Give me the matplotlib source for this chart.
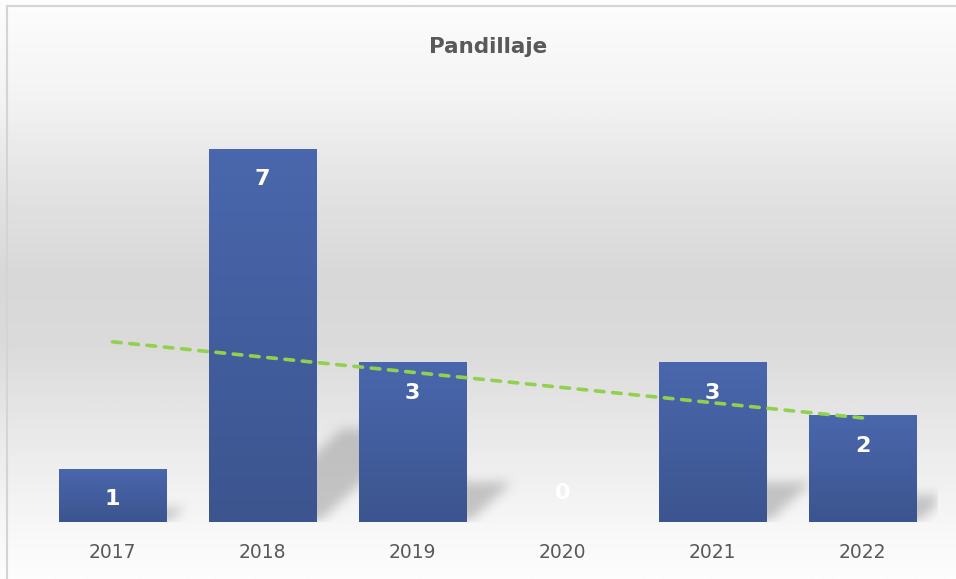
import numpy as np
import matplotlib
matplotlib.use("Agg")
import matplotlib.pyplot as plt
from matplotlib.path import Path
from matplotlib.colors import LinearSegmentedColormap

years = ["2017", "2018", "2019", "2020", "2021", "2022"]
valores = [1, 7, 3, 0, 3, 2]
titulo = "Pandillaje"

W, H = 956, 579
fig = plt.figure(figsize=(W / 100, H / 100), dpi=100)

# fondo con degradado (blanco - gris - blanco)
bg = fig.add_axes([0, 0, 1, 1], zorder=-10)
bg.set_axis_off()
stops = [(0.0, "#fdfdfd"), (0.16, "#f4f4f4"), (0.35, "#e1e1e1"), (0.48, "#d8d8d8"),
         (0.60, "#dbdbdb"), (0.78, "#ececec"), (0.92, "#f8f8f8"), (1.0, "#fdfdfd")]
cmap_bg = LinearSegmentedColormap.from_list("bg", stops)
grad = np.linspace(0, 1, 400).reshape(-1, 1)
bg.imshow(grad, aspect="auto", cmap=cmap_bg, extent=[0, 1, 0, 1], origin="upper")
bg.set_xlim(0, 1)
bg.set_ylim(0, 1)
# marco del grafico (solo se ven borde izquierdo y superior)
bg.plot([7 / W, 7 / W], [0, 1 - 6 / H], color="#d4d4d4", lw=1.5)
bg.plot([7 / W, 1], [1 - 6 / H, 1 - 6 / H], color="#d4d4d4", lw=1.5)

ax = fig.add_axes([37.5 / W, 57 / H, 900 / W, 426.4 / H])
ax.set_facecolor("none")
x = np.arange(len(valores))
ancho = 0.714
xmin, xmax, ymin, ymax = -0.5, len(valores) - 0.5, 0, 8

# sombras en perspectiva, rasterizadas y difuminadas
nx, ny = 900, 426
gx, gy = np.meshgrid(np.linspace(xmin, xmax, nx), np.linspace(ymin, ymax, ny))
pts_grid = np.column_stack([gx.ravel(), gy.ravel()])
mask = np.zeros(nx * ny)
for xi, v in zip(x, valores):
    if v == 0:
        continue
    sx = 0.095 * v
    hy = 0.25 * v
    poly = [(xi - ancho / 2 + 0.22, 0), (xi + ancho / 2 + 0.02, 0),
            (xi + ancho / 2 + 0.02 + sx, hy), (xi - ancho / 2 + 0.22 + sx, hy)]
    mask = np.maximum(mask, Path(poly).contains_points(pts_grid))
mask = mask.reshape(ny, nx)
k = np.ones(13) / 13
for _ in range(2):
    mask = np.apply_along_axis(lambda r: np.convolve(r, k, mode="same"), 1, mask)
    mask = np.apply_along_axis(lambda c: np.convolve(c, k, mode="same"), 0, mask)
sombra = np.zeros((ny, nx, 4))
sombra[..., :3] = 0.64
sombra[..., 3] = mask * 0.6
ax.imshow(sombra, origin="lower", aspect="auto", extent=[xmin, xmax, ymin, ymax],
          zorder=1, interpolation="bilinear")

barras = ax.bar(x, valores, width=ancho, color="#4560a0", zorder=2)

# degradado de cada barra
cmap_bar = LinearSegmentedColormap.from_list("bar", ["#3c558f", "#4a67ad"])
for b in barras:
    if b.get_height() == 0:
        continue
    im = ax.imshow(np.linspace(0, 1, 100).reshape(-1, 1), cmap=cmap_bar, aspect="auto",
                   origin="lower", zorder=3,
                   extent=[b.get_x(), b.get_x() + b.get_width(), 0, b.get_height()])
    im.set_clip_path(b)

# linea de tendencia lineal
coef = np.polyfit(x, valores, 1)
ax.plot(x, np.polyval(coef, x), color="#92d050", linewidth=2.6,
        dashes=(2.4, 2.4), dash_capstyle="round", zorder=4)

# etiquetas de datos
for xi, v in zip(x, valores):
    dy = -22 if v > 0 else 21
    ax.annotate(str(v), (xi, v), xytext=(0, dy), textcoords="offset points",
                ha="center", va="center", color="white", fontsize=16,
                fontweight="bold", zorder=5)

ax.set_xlim(xmin, xmax)
ax.set_ylim(ymin, ymax)
ax.set_xticks(x)
ax.set_xticklabels(years, fontsize=13.5, color="#595959")
ax.tick_params(axis="x", length=0, pad=15)
ax.set_yticks([])
for s in ax.spines.values():
    s.set_visible(False)

fig.text(488 / W, 1 - 47 / H, titulo, ha="center", va="center", fontsize=15.5,
         fontweight="bold", color="#595959")

fig.savefig("out.png", dpi=100)
